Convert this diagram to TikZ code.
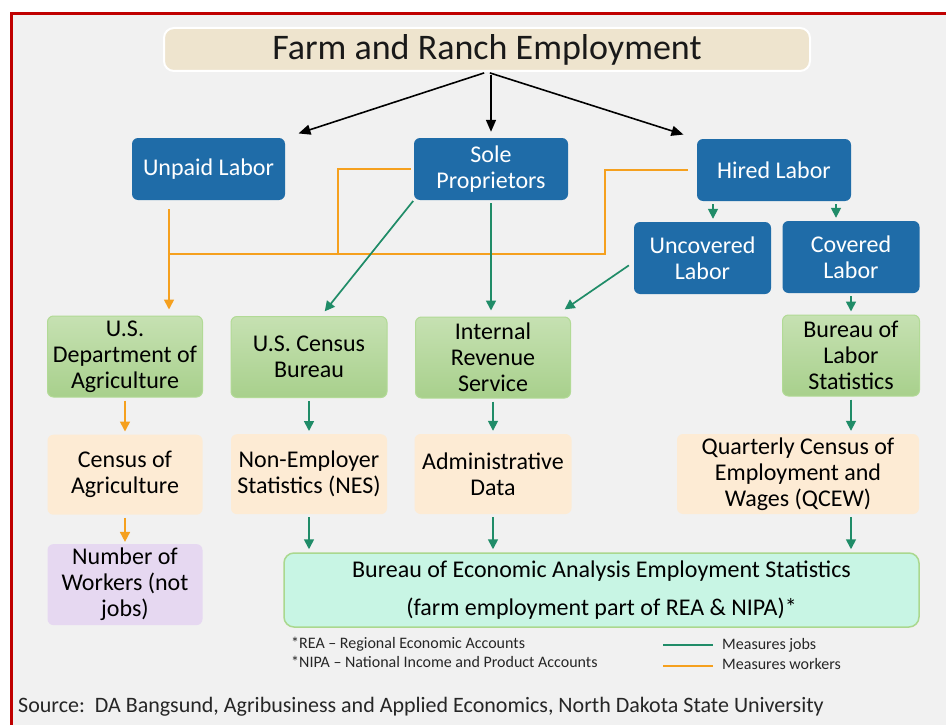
\documentclass[tikz,border=0pt]{standalone}
\usepackage{fontspec}
\setmainfont{Carlito}
\usepackage{xcolor}
\usepackage{tikz}
\usetikzlibrary{arrows.meta,shapes,positioning}

\definecolor{laborblue}{RGB}{31,108,168}
\definecolor{agencytop}{RGB}{198,225,178}
\definecolor{agencybot}{RGB}{168,208,140}
\definecolor{agencyedge}{RGB}{178,218,150}
\definecolor{datapeach}{RGB}{253,235,212}
\definecolor{countlilac}{RGB}{230,216,241}
\definecolor{beamint}{RGB}{200,245,228}
\definecolor{beaedge}{RGB}{170,216,142}
\definecolor{jobsgreen}{RGB}{32,140,104}
\definecolor{workorange}{RGB}{245,160,30}
\definecolor{titlebeige}{RGB}{238,228,206}
\definecolor{framered}{RGB}{192,0,0}
\definecolor{panelgray}{RGB}{241,241,241}

\begin{document}
\begin{tikzpicture}[
        x=1pt, y=-1pt,
        node distance=36pt,
        >={Triangle[length=10pt,width=10pt]},
        boxtext/.style={align=center, inner sep=0pt, font=\fontsize{24}{26}\selectfont},
        laborbox/.style={boxtext, fill=laborblue, text=white, rounded corners=6pt, minimum width=154pt, minimum height=62pt},
        agencybox/.style={boxtext, draw=agencyedge, line width=1pt, top color=agencytop, bottom color=agencybot, rounded corners=6pt, minimum width=155pt, minimum height=81pt},
        databox/.style={boxtext, fill=datapeach, rounded corners=6pt, minimum width=155pt, minimum height=80pt},
        countbox/.style={boxtext, fill=countlilac, rounded corners=6pt, minimum width=155pt, minimum height=81pt},
        jobs/.style={draw=jobsgreen, line width=1.7pt, shorten <=3pt, shorten >=3pt},
        workers/.style={draw=workorange, line width=1.7pt},
        owner/.style={draw=black, line width=1.6pt, -{Triangle[length=12pt,width=10pt]}, shorten <=3pt},
        note/.style={inner sep=0pt, align=left, text=black!85}
      ]
        \useasboundingbox (0,0) rectangle (946,725);
        \fill[panelgray] (11.5,13.5) rectangle (946,725);
        \draw[framered, line width=3pt] (11.5,725) -- (11.5,13.5) -- (946,13.5);

        % top
        \node[draw=white, line width=2pt, fill=titlebeige, rounded corners=10pt, minimum width=646pt, minimum height=43pt, inner sep=0pt, font=\fontsize{36}{40}\selectfont, text=black!90] (title) at (487,49.5) {Farm and Ranch Employment};

        % kinds of labor
        \node[laborbox, minimum width=153pt] (unpaid) at (208.5,169) {Unpaid Labor};
        \node[laborbox] (sole) at (491,169) {Sole\\Proprietors};
        \node[laborbox] (hired) at (774,170) {Hired Labor};
        \node[laborbox, minimum width=137pt, minimum height=72pt] (uncovered) at (702.5,258) {Uncovered\\Labor};
        \node[laborbox, minimum width=137pt, minimum height=72pt] (covered) at (851,257) {Covered\\Labor};

        % agencies
        \node[agencybox] (usda) at (125,356.5) {U.S.\\Department of\\Agriculture};
        \node[agencybox, minimum width=156pt] (census) at (309,357) {U.S. Census\\Bureau};
        \node[agencybox] (irs) at (493,357.5) {Internal\\Revenue\\Service};
        \node[agencybox, minimum width=137pt] (bls) at (851,355.5) {Bureau of\\Labor\\Statistics};

        % data sources
        \node[databox, below=37pt of usda] (coa) {Census of\\Agriculture};
        \node[databox, minimum width=156pt, below=36pt of census] (nes) {Non-Employer\\Statistics (NES)};
        \node[databox, minimum width=157pt] (admin) at (493,474) {Administrative\\Data};
        \node[databox, minimum width=242pt] (qcew) at (798,474) {Quarterly Census of\\Employment and\\Wages (QCEW)};
        \node[countbox, below=29pt of coa] (count) {Number of\\Workers (not\\jobs)};

        \node[boxtext, draw=beaedge, line width=1.5pt, fill=beamint, rounded corners=10pt, minimum width=635pt, minimum height=74pt, font=\fontsize{24}{38}\selectfont] (bea) at (601.5,590) {Bureau of Economic Analysis Employment Statistics\\(farm employment part of REA \& NIPA)*};

        % notes and legend
        \node[note, anchor=west, font=\fontsize{16}{19}\selectfont] (notes) at (291,652.5) {*REA -- Regional Economic Accounts\\*NIPA -- National Income and Product Accounts};
        \node[note, anchor=west, font=\fontsize{16}{19}\selectfont] (legjobs) at (722,645) {Measures jobs};
        \node[note, anchor=west, font=\fontsize{16}{19}\selectfont] (legworkers) at (722,664) {Measures workers};
        \draw[draw=jobsgreen, line width=2pt] ([xshift=-59pt]legjobs.west) -- ([xshift=-9pt]legjobs.west);
        \draw[workers, line width=2pt] ([xshift=-59pt,yshift=-1.5pt]legworkers.west) -- ([xshift=-9pt,yshift=-1.5pt]legworkers.west);
        \node[note, anchor=west, font=\fontsize{22}{26}\selectfont] (source) at (18,707) {Source:\ \ DA Bangsund, Agribusiness and Applied Economics, North Dakota State University};

        % ownership arrows
        \draw[owner, shorten >=14pt] (title.south) -- (unpaid.north east);
        \draw[owner, shorten >=6pt] (title.south -| sole.north) -- (sole.north);
        \draw[owner, shorten >=14pt] (title.south) -- (hired.north west);

        % workers (orange)
        \coordinate (ujoin) at (169,254);
        \coordinate (sjoin) at (338,254);
        \coordinate (hjoin) at (605,254);
        \draw[workers, shorten <=9pt] (hired.west) -| (hjoin) -- (ujoin);
        \draw[workers, shorten <=3pt] (sole.west) -| (sjoin);
        \draw[workers, ->, shorten <=9pt, shorten >=6pt] (unpaid.south -| ujoin) -- (usda.north -| ujoin);
        \draw[workers, ->, shorten <=3pt, shorten >=3pt] (usda.south) -- (coa.north);
        \draw[workers, ->, shorten <=3pt, shorten >=2pt] (coa.south) -- (count.north);

        % jobs (green)
        \draw[jobs, ->, shorten <=1pt, shorten >=6pt] (sole.south west) -- ([xshift=12pt]census.north);
        \draw[jobs, ->, shorten >=6pt] (sole.south) -- (sole.south |- irs.north);
        \draw[jobs, ->, shorten <=6pt, shorten >=2pt] ([yshift=-4pt]uncovered.west) -- ([xshift=-8pt,yshift=6pt]irs.north east);
        \draw[jobs, ->] ([xshift=10.5pt]uncovered.north |- hired.south) -- ([xshift=10.5pt]uncovered.north);
        \draw[jobs, ->] ([xshift=-15pt]covered.north |- hired.south) -- ([xshift=-15pt]covered.north);
        \draw[jobs, ->] (covered) -- (bls);
        \draw[jobs, ->] (census) -- (census |- nes.north);
        \draw[jobs, ->] (irs) -- (irs |- admin.north);
        \draw[jobs, ->] (bls) -- (bls |- qcew.north);
        \draw[jobs, ->] (nes) -- (nes |- bea.north);
        \draw[jobs, ->] (admin) -- (admin |- bea.north);
        \draw[jobs, ->] (qcew.south -| bls) -- (bea.north -| bls);
      \end{tikzpicture}
\end{document}
